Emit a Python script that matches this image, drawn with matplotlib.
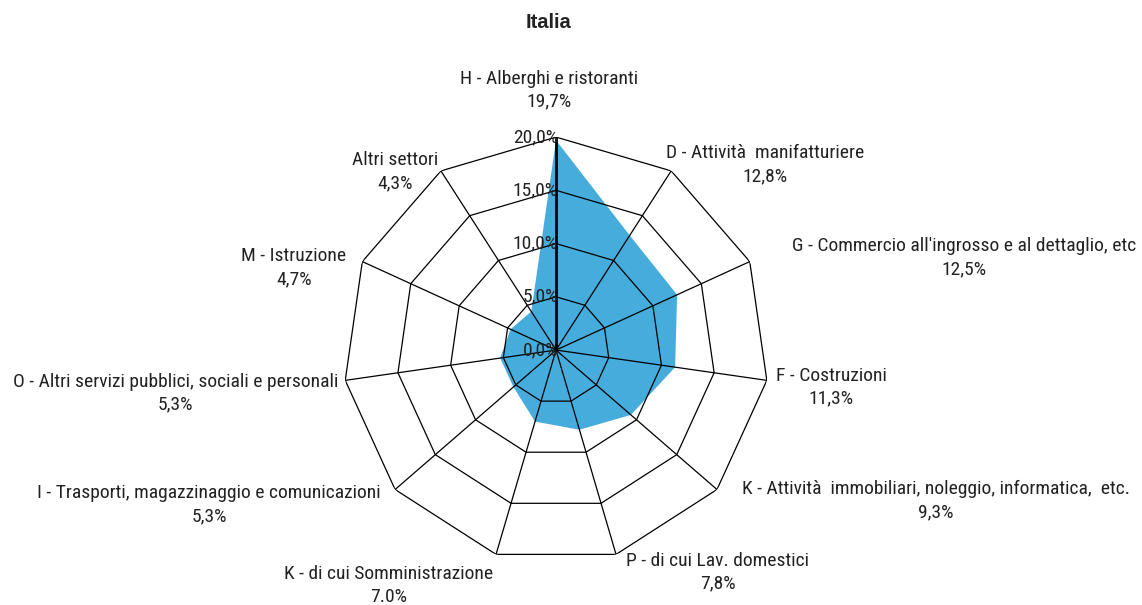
import matplotlib
matplotlib.use('Agg')
import matplotlib.pyplot as plt
from matplotlib import font_manager
import numpy as np

# categories clockwise from the top, and their share (%)
CATEGORIES = [
    'H - Alberghi e ristoranti',
    'D - Attività  manifatturiere',
    "G - Commercio all'ingrosso e al dettaglio, etc",
    'F - Costruzioni',
    'K - Attività  immobiliari, noleggio, informatica,  etc.',
    'P - di cui Lav. domestici',
    'K - di cui Somministrazione',
    'I - Trasporti, magazzinaggio e comunicazioni',
    'O - Altri servizi pubblici, sociali e personali',
    'M - Istruzione',
    'Altri settori',
]
VALUES = [19.7, 12.8, 12.5, 11.3, 9.3, 7.8, 7.0, 5.3, 5.3, 4.7, 4.3]
VALUE_LABELS = ['19,7%', '12,8%', '12,5%', '11,3%', '9,3%', '7,8%',
                '7.0%', '5,3%', '5,3%', '4,7%', '4,3%']
RINGS = [0, 5, 10, 15, 20]
RING_LABELS = ['0,0%', '5,0%', '10,0%', '15,0%', '20,0%']
TITLE = 'Italia'

# label placement: (ha, dx, dy) in pixels from the spoke end
LABEL_POS = [
    ('center', -7, 47), ('left', -5, 6), ('left', 42, 4), ('left', 9, -7),
    ('left', 25, -11), ('left', 10, -18), ('right', -3, -31),
    ('right', -14, -15), ('right', -7, -13), ('right', -16, -6),
    ('right', -3, -1),
]

names = {f.name for f in font_manager.fontManager.ttflist}
fam = [f for f in ['Liberation Sans Narrow', 'Roboto Condensed', 'Liberation Sans']
       if f in names] + ['DejaVu Sans']
plt.rcParams['font.family'] = fam

FILL = '#45acdc'
TXT = '#222222'
FS = 14

fig = plt.figure(figsize=(11.42, 6.05), dpi=100)
ax = fig.add_axes([0.3004, 0.0694, 0.373, 0.704], projection='polar')
ax.set_theta_zero_location('N')
ax.set_theta_direction(-1)
ax.set_ylim(0, 20)
ax.axis('off')

n = len(CATEGORIES)
angles = np.arange(n) * 2 * np.pi / n
closed = np.append(angles, angles[0])

# data polygon
vals = np.append(VALUES, VALUES[0])
ax.fill(closed, vals, color=FILL, lw=0, zorder=1)

# polygon grid
for r in RINGS[1:]:
    ax.plot(closed, [r] * (n + 1), color='black', lw=0.9, zorder=2)
for i, a in enumerate(angles):
    ax.plot([a, a], [0, 20], color='black', lw=2.0 if i == 0 else 0.9, zorder=2)

# ring labels along the vertical axis
for r, lab in zip(RINGS, RING_LABELS):
    ax.annotate(lab, xy=(0, r), xytext=(2, 0), textcoords='offset pixels',
                ha='right', va='center', fontsize=FS, color=TXT, zorder=3)

# category labels
for a, cat, vl, (ha, dx, dy) in zip(angles, CATEGORIES, VALUE_LABELS, LABEL_POS):
    ax.annotate(f'{cat}\n{vl}', xy=(a, 20), xytext=(dx, dy),
                textcoords='offset pixels', ha=ha, va='center',
                multialignment='center', linespacing=1.35,
                fontsize=FS, color=TXT, annotation_clip=False)

fig.text(0.48, 0.963, TITLE, ha='center', va='center', fontsize=14.5,
         fontweight='bold', color=TXT, family=['Liberation Sans', 'DejaVu Sans'])

fig.savefig('out.png', dpi=100)
